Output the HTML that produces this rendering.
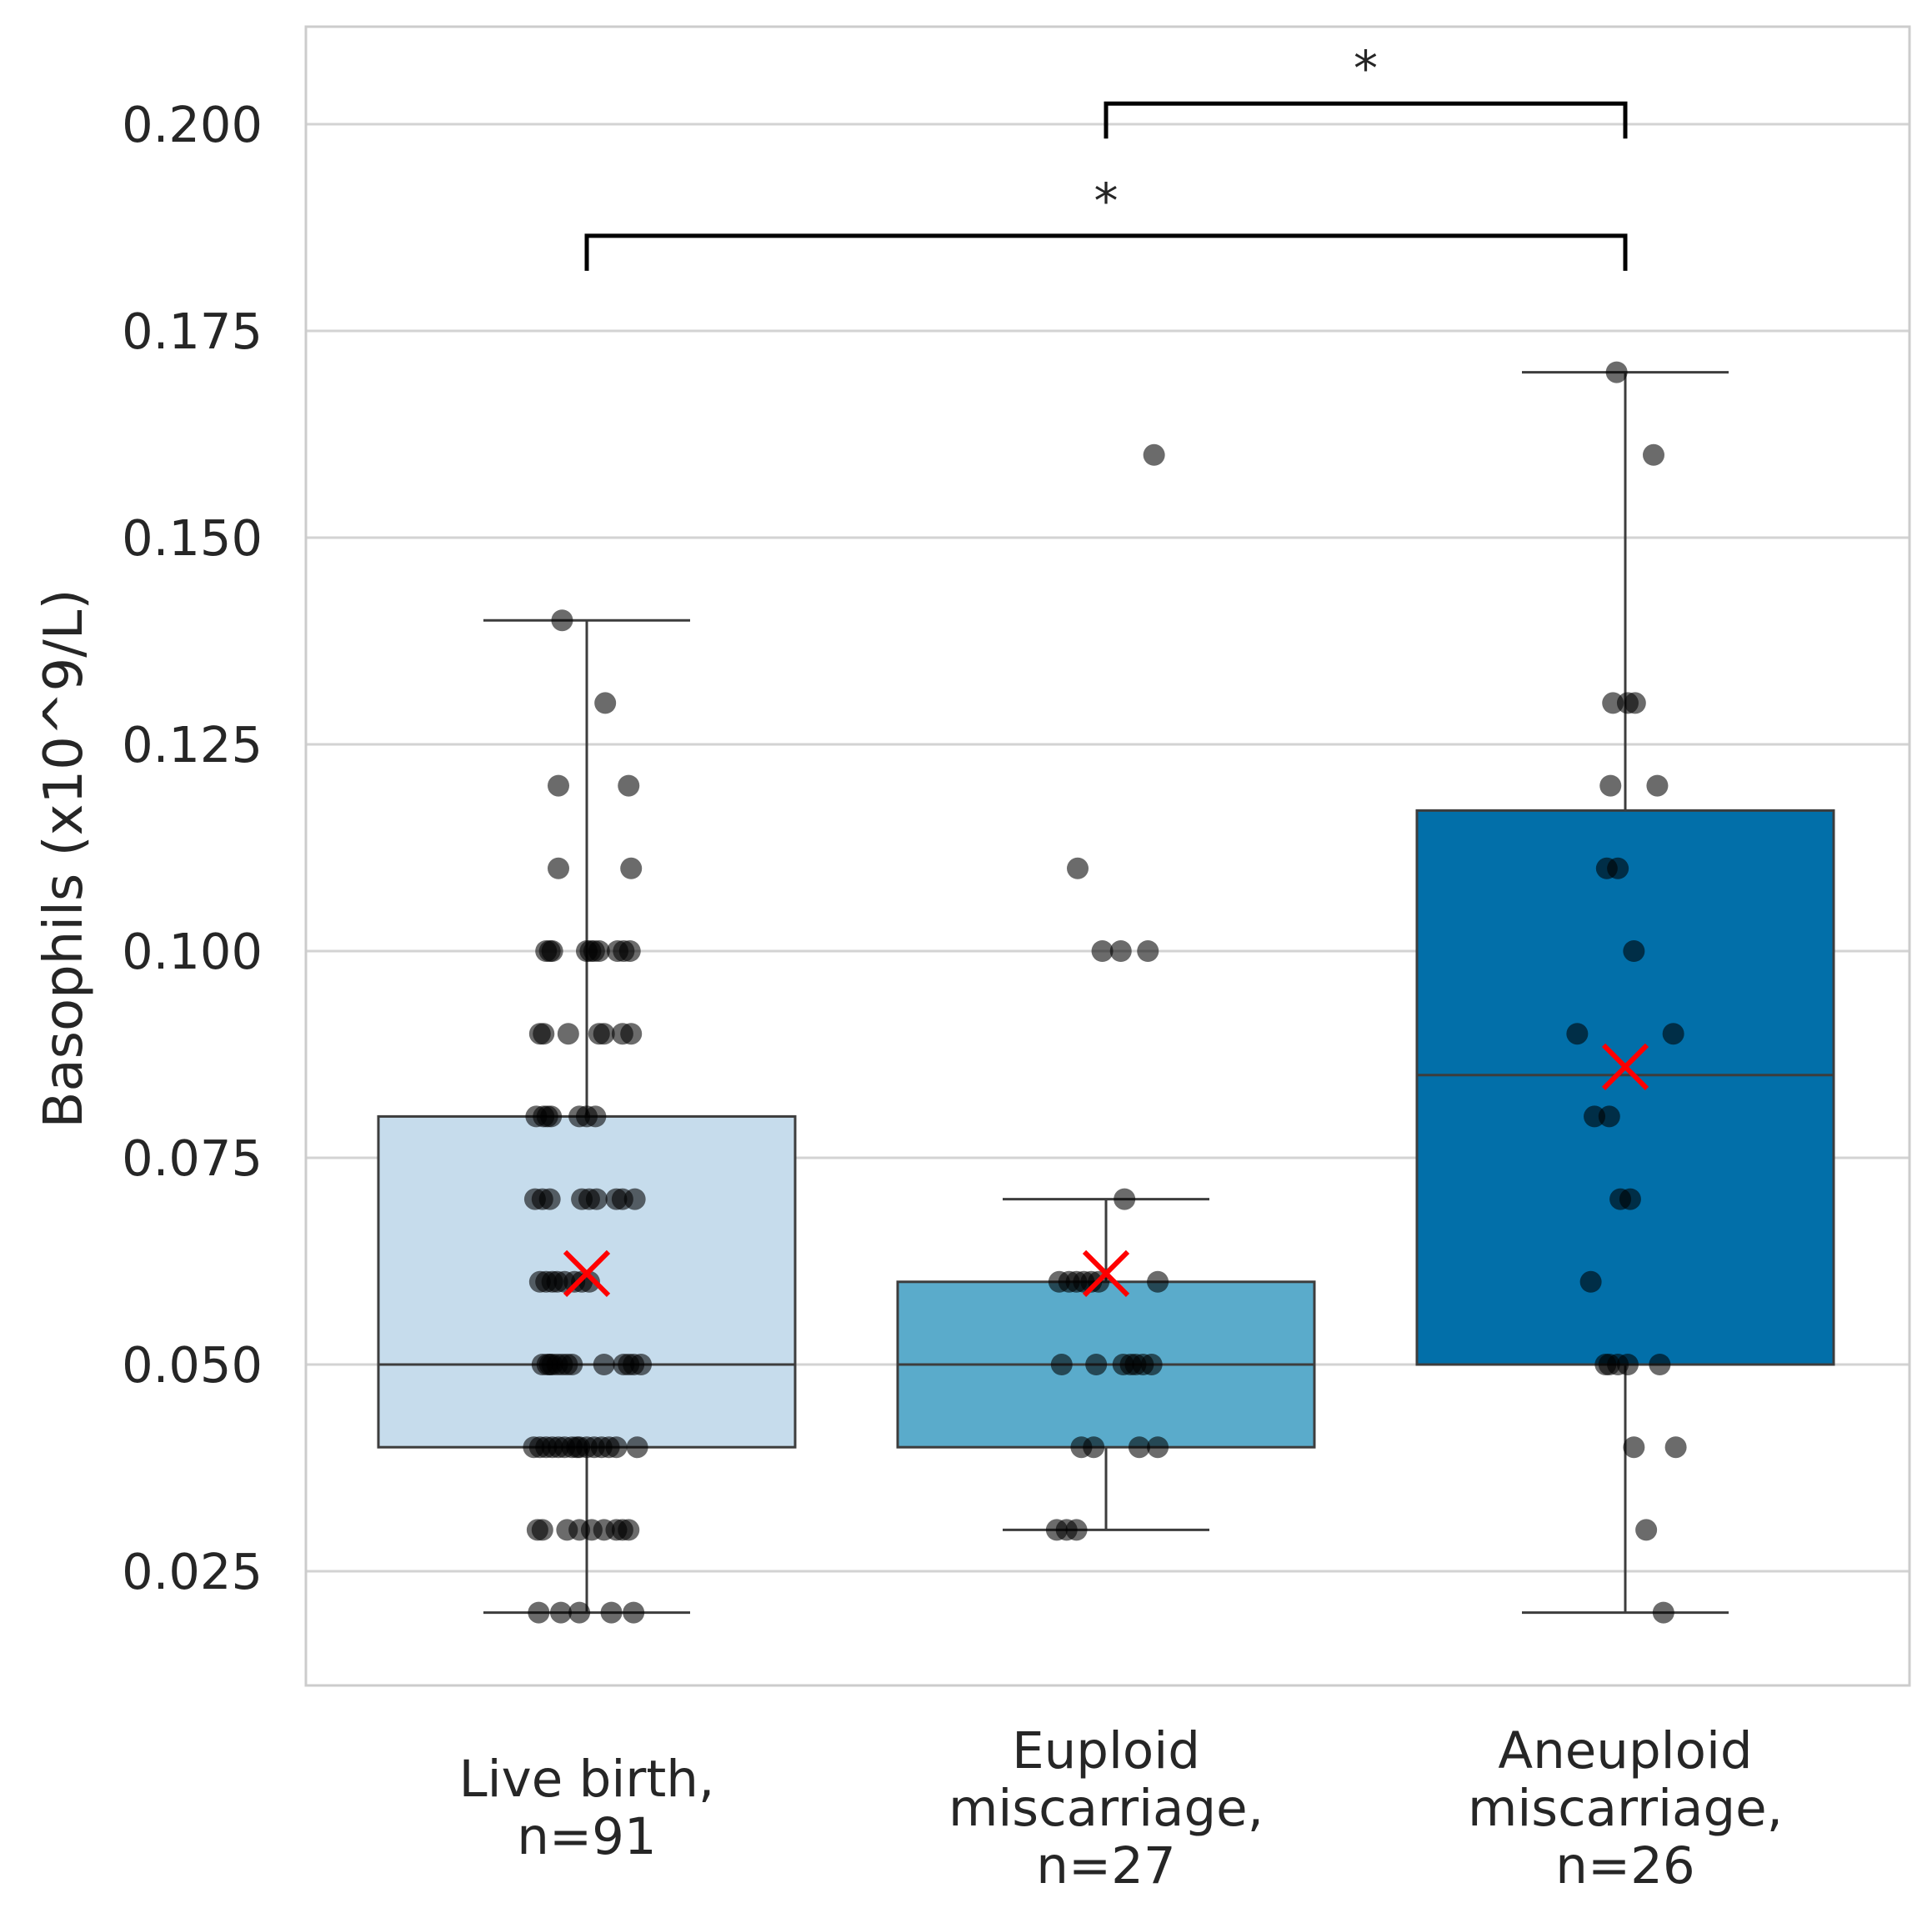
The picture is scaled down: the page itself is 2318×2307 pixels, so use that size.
<!DOCTYPE html>
<html><head><meta charset="utf-8"><style>
html,body{margin:0;padding:0;background:#fff;}
svg{display:block;}
text{font-family:"DejaVu Sans","Liberation Sans",sans-serif;fill:#262626;}
</style></head><body>
<svg id="chart" width="2318" height="2307" viewBox="0 0 2318 2307" xmlns="http://www.w3.org/2000/svg"></svg>
<script>
const categories = ["Live birth,|n=91", "Euploid|miscarriage,|n=27", "Aneuploid|miscarriage,|n=26"];
const q1Values = [0.04, 0.04, 0.05];
const medianValues = [0.05, 0.05, 0.085];
const q3Values = [0.08, 0.06, 0.117];
const whiskerLow = [0.02, 0.03, 0.02];
const whiskerHigh = [0.14, 0.07, 0.17];
const meanValues = [0.061, 0.061, 0.086];
const boxColors = ["#c6dcec", "#5aabcb", "#026fa9"];
const yTicks = [0.025, 0.050, 0.075, 0.100, 0.125, 0.150, 0.175, 0.200];
const yTickLabels = ["0.025", "0.050", "0.075", "0.100", "0.125", "0.150", "0.175", "0.200"];
// points: [value, jitter]
const liveBirthPoints = [
[0.14,-20],[0.13,15],[0.12,-23],[0.12,34],[0.11,-23],[0.11,36],
[0.10,-33],[0.10,-30],[0.10,-28],[0.10,0],[0.10,3],[0.10,6],[0.10,10],[0.10,25],[0.10,30],[0.10,35],
[0.09,-38],[0.09,-35],[0.09,-15],[0.09,10],[0.09,14],[0.09,29],[0.09,36],
[0.08,-41],[0.08,-35],[0.08,-29],[0.08,-6],[0.08,0],[0.08,7],[0.08,-32],
[0.07,-42],[0.07,-36],[0.07,-30],[0.07,-4],[0.07,2],[0.07,8],[0.07,24],[0.07,29],[0.07,39],
[0.06,-38],[0.06,-33],[0.06,-24],[0.06,-18],[0.06,-10],[0.06,-4],[0.06,2],[0.06,-28],
[0.05,-36],[0.05,-32],[0.05,-28],[0.05,-24],[0.05,-20],[0.05,-16],[0.05,14],[0.05,30],[0.05,34],[0.05,38],[0.05,44],[0.05,-12],[0.05,-30],
[0.04,-43],[0.04,-38],[0.04,-33],[0.04,-28],[0.04,-23],[0.04,-18],[0.04,-12],[0.04,-6],[0.04,0],[0.04,6],[0.04,12],[0.04,18],[0.04,24],[0.04,41],[0.04,-8],
[0.03,-40],[0.03,-36],[0.03,-16],[0.03,-6],[0.03,4],[0.03,14],[0.03,24],[0.03,34],[0.03,29],
[0.02,-39],[0.02,-21],[0.02,-6],[0.02,20],[0.02,38]
];
const euploidPoints = [
[0.16,39],[0.11,-23],[0.10,-3],[0.10,12],[0.10,34],[0.07,15],
[0.06,-38],[0.06,-30],[0.06,-24],[0.06,-18],[0.06,-12],[0.06,42],[0.06,-6],
[0.05,-36],[0.05,-8],[0.05,14],[0.05,20],[0.05,37],[0.05,24],[0.05,30],
[0.04,-20],[0.04,-10],[0.04,27],[0.04,42],
[0.03,-40],[0.03,-32],[0.03,-24]
];
const aneuploidPoints = [
[0.17,-7],[0.16,23],[0.13,-10],[0.13,2],[0.13,8],[0.12,-12],[0.12,26],
[0.11,-6],[0.11,-15],[0.10,7],[0.09,-39],[0.09,39],[0.08,-25],[0.08,-13],
[0.07,-4],[0.07,4],[0.06,-28],[0.05,-13],[0.05,-6],[0.05,2],[0.05,28],[0.05,-16],
[0.04,7],[0.04,41],[0.03,17],[0.02,31]
];
const groupPoints = [liveBirthPoints, euploidPoints, aneuploidPoints];
const sigPairs = [[1,2,0.2025,"*"],[0,2,0.1865,"*"]];

const NS = "http://www.w3.org/2000/svg";
const svg = document.getElementById("chart");
const plotL = 367, plotR = 2291, plotT = 32, plotB = 2022;
const yTop = 0.2, yTopPx = 149, pxPerUnit = 248/0.025;
function y(v){ return yTopPx + (yTop - v)*pxPerUnit; }
const catStep = 623, cat0 = 704;
function x(i){ return cat0 + i*catStep; }
const boxHalf = 250, capHalf = 124, jScale = 1.478;
function mk(tag, attrs, parent){
  const e = document.createElementNS(NS, tag);
  for (const k in attrs) e.setAttribute(k, attrs[k]);
  (parent||svg).appendChild(e); return e;
}
const frame = mk("rect",{x:plotL,y:plotT,width:plotR-plotL,height:plotB-plotT,fill:"#fff",stroke:"none"});


yTicks.forEach((t,i)=>{
  const g = mk("line",{x1:plotL,x2:plotR,y1:y(t),y2:y(t),stroke:"#d3d3d3","stroke-width":3});
  
  
  const tx = mk("text",{x:315,y:y(t)+21,"text-anchor":"end","font-size":59});
  tx.textContent = yTickLabels[i];
  
  
});
categories.forEach((c,i)=>{
  const cx = x(i);
  const g = mk("g",{});
  
  
  mk("line",{x1:cx,x2:cx,y1:y(whiskerHigh[i]),y2:y(q3Values[i]),stroke:"#3d3d3d","stroke-width":3},g);
  mk("line",{x1:cx,x2:cx,y1:y(q1Values[i]),y2:y(whiskerLow[i]),stroke:"#3d3d3d","stroke-width":3},g);
  mk("line",{x1:cx-capHalf,x2:cx+capHalf,y1:y(whiskerHigh[i]),y2:y(whiskerHigh[i]),stroke:"#3d3d3d","stroke-width":3},g);
  mk("line",{x1:cx-capHalf,x2:cx+capHalf,y1:y(whiskerLow[i]),y2:y(whiskerLow[i]),stroke:"#3d3d3d","stroke-width":3},g);
  mk("rect",{x:cx-boxHalf,y:y(q3Values[i]),width:2*boxHalf,height:y(q1Values[i])-y(q3Values[i]),fill:boxColors[i],stroke:"#3d3d3d","stroke-width":3},g);
  mk("line",{x1:cx-boxHalf,x2:cx+boxHalf,y1:y(medianValues[i]),y2:y(medianValues[i]),stroke:"#3d3d3d","stroke-width":3},g);
  const lines = c.split("|");
  const base = lines.length===2 ? 2155 : 2121;
  lines.forEach((ln,k)=>{
    const t = mk("text",{x:cx,y:base+k*69,"text-anchor":"middle","font-size":61});
    t.textContent = ln;
    
    
  });
});
groupPoints.forEach((pts,i)=>{
  pts.forEach(p=>{
    const d = mk("circle",{cx:x(i)+p[1]*jScale,cy:y(p[0]),r:13,fill:"#000","fill-opacity":0.58});
    
    
  });
});
meanValues.forEach((m,i)=>{
  const cx=x(i), cy=y(m), h=26;
  const g = mk("g",{stroke:"#ff0000","stroke-width":6});
  
  
  mk("line",{x1:cx-h,y1:cy-h,x2:cx+h,y2:cy+h},g);
  mk("line",{x1:cx-h,y1:cy+h,x2:cx+h,y2:cy-h},g);
});
sigPairs.forEach(s=>{
  const a=x(s[0]), b=x(s[1]), top=y(s[2]), drop=42;
  const p = mk("path",{d:`M${a},${top+drop} L${a},${top} L${b},${top} L${b},${top+drop}`,fill:"none",stroke:"#000","stroke-width":5});
  
  
  const t = mk("text",{x:(a+b)/2,y:top-22,"text-anchor":"middle","font-size":58});
  t.textContent = s[3];
  
  
});
const fb = mk("rect",{x:plotL,y:plotT,width:plotR-plotL,height:plotB-plotT,fill:"none",stroke:"#cccccc","stroke-width":3});


const yl = mk("text",{x:0,y:0,"text-anchor":"middle","font-size":64,transform:"translate(98,1030) rotate(-90)"});
yl.textContent = "Basophils (x10^9/L)";


</script>
</body></html>
